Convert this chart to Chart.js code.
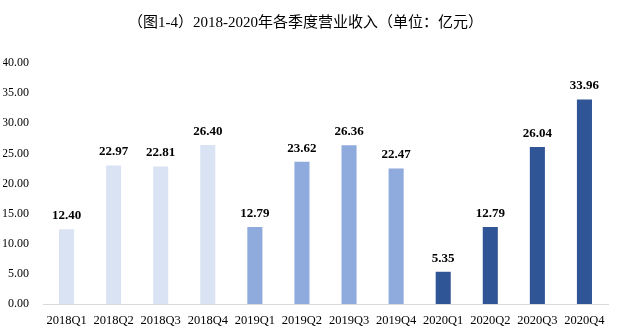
<!DOCTYPE html>
<html lang="zh">
<head>
    <meta charset="UTF-8" />
    <title>2018-2020年各季度营业收入</title>
    <script src="https://cdn.jsdelivr.net/npm/chart.js"></script>
    <style>
        html, body { margin: 0; padding: 0; background: #fff; }
        .chart-container { width: 625px; height: 334px; }
    </style>
</head>
<body>
<div class="chart-container">
    <canvas id="revenueChart"></canvas>
</div>
<script>
    // quarters and revenue (亿元)
    const quarters = ['2018Q1', '2018Q2', '2018Q3', '2018Q4',
                      '2019Q1', '2019Q2', '2019Q3', '2019Q4',
                      '2020Q1', '2020Q2', '2020Q3', '2020Q4'];
    const revenue = [12.40, 22.97, 22.81, 26.40,
                     12.79, 23.62, 26.36, 22.47,
                     5.35, 12.79, 26.04, 33.96];
    const yearColors = { '2018': '#dae3f3', '2019': '#8faadc', '2020': '#2f5597' };

    const serif = '"Liberation Serif", "Times New Roman", "Noto Sans CJK SC", serif';

    // value labels above each bar
    const valueLabels = {
      id: 'valueLabels',
      afterDatasetsDraw(chart) {
        const ctx = chart.ctx;
        const meta = chart.getDatasetMeta(0);
        ctx.save();
        ctx.font = 'bold 13px ' + serif;
        ctx.fillStyle = '#000';
        ctx.textAlign = 'center';
        ctx.textBaseline = 'bottom';
        meta.data.forEach((bar, i) => {
          ctx.fillText(revenue[i].toFixed(2), bar.x, bar.y - 7);
        });
        ctx.restore();
      }
    };

    const ctx = document.getElementById('revenueChart').getContext('2d');
    new Chart(ctx, {
      type: 'bar',
      data: {
        labels: quarters,
        datasets: [{
          data: revenue,
          backgroundColor: quarters.map(q => yearColors[q.slice(0, 4)]),
          categoryPercentage: 1,
          barPercentage: 0.32
        }]
      },
      options: {
        responsive: true,
        maintainAspectRatio: false,
        animation: false,
        layout: { padding: { left: 3, right: 17, top: 0, bottom: 5 } },
        plugins: {
          legend: { display: false },
          tooltip: { enabled: false },
          title: {
            display: true,
            text: '（图1-4）2018-2020年各季度营业收入（单位：亿元）',
            color: '#000',
            font: { family: serif, size: 15, weight: 'normal' },
            padding: { top: 14, bottom: 31 }
          }
        },
        scales: {
          x: {
            grid: { display: false },
            border: { color: '#d9d9d9', width: 1 },
            ticks: {
              color: '#000',
              font: { family: serif, size: 12.5 },
              maxRotation: 0,
              autoSkip: false,
              padding: 1
            }
          },
          y: {
            min: 0,
            max: 40,
            afterFit(scale) { scale.width = 40; },
            grid: { display: false },
            border: { display: false },
            ticks: {
              stepSize: 5,
              color: '#000',
              font: { family: serif, size: 12 },
              padding: 6,
              callback: v => v.toFixed(2)
            }
          }
        }
      },
      plugins: [valueLabels]
    });
</script>
</body>
</html>
